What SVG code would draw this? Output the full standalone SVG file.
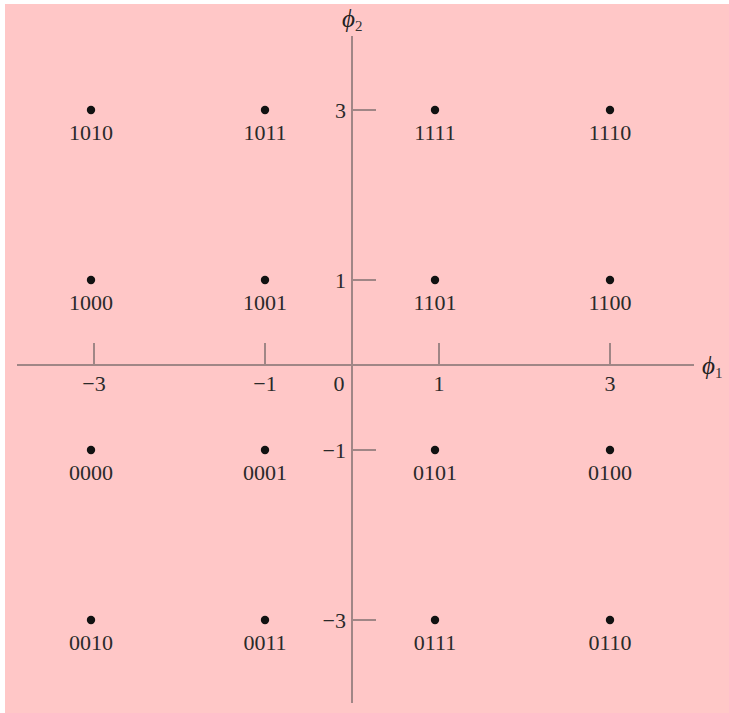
<svg xmlns="http://www.w3.org/2000/svg" width="729" height="713" viewBox="0 0 729 713">
<style>
.ax{stroke:#a08686;stroke-width:2;fill:none}
.dot{fill:#111}
.lb{font-family:"Liberation Serif",serif;font-size:22px;fill:#2a2a2a;text-anchor:middle}
.tk{font-family:"Liberation Serif",serif;font-size:22px;fill:#2a2a2a}
.ph{font-family:"Liberation Serif",serif;font-style:italic;font-size:25px;fill:#222}
.sub{font-family:"Liberation Serif",serif;font-size:15px;fill:#333}
</style>
<rect x="5" y="4" width="724" height="709" fill="#ffc7c7"/>
<g id="axes">
<line class="ax" x1="17" y1="365" x2="694" y2="365"/>
<line class="ax" x1="352" y1="36" x2="352" y2="703"/>
<line class="ax" x1="94" y1="343" x2="94" y2="365"/>
<line class="ax" x1="265" y1="343" x2="265" y2="365"/>
<line class="ax" x1="439" y1="343" x2="439" y2="365"/>
<line class="ax" x1="610" y1="343" x2="610" y2="365"/>
<line class="ax" x1="352" y1="110" x2="376" y2="110"/>
<line class="ax" x1="352" y1="280" x2="376" y2="280"/>
<line class="ax" x1="352" y1="450" x2="376" y2="450"/>
<line class="ax" x1="352" y1="620" x2="376" y2="620"/>
</g>
<g id="ticklabels">
<text class="tk" x="94" y="391" text-anchor="middle">−3</text>
<text class="tk" x="265" y="391" text-anchor="middle">−1</text>
<text class="tk" x="339" y="391" text-anchor="middle">0</text>
<text class="tk" x="439" y="391" text-anchor="middle">1</text>
<text class="tk" x="610" y="391" text-anchor="middle">3</text>
<text class="tk" x="346" y="118" text-anchor="end">3</text>
<text class="tk" x="346" y="288" text-anchor="end">1</text>
<text class="tk" x="346" y="458" text-anchor="end">−1</text>
<text class="tk" x="346" y="628" text-anchor="end">−3</text>
</g>
<g id="axis-labels">
<text x="342" y="27"><tspan class="ph">ϕ</tspan><tspan class="sub" dy="4">2</tspan></text>
<text x="702" y="374"><tspan class="ph">ϕ</tspan><tspan class="sub" dy="4">1</tspan></text>
</g>
<g id="p1010"><circle class="dot" cx="91" cy="110" r="4.2"/><text class="lb" x="91" y="140">1010</text></g>
<g id="p1011"><circle class="dot" cx="265" cy="110" r="4.2"/><text class="lb" x="265" y="140">1011</text></g>
<g id="p1111"><circle class="dot" cx="435" cy="110" r="4.2"/><text class="lb" x="435" y="140">1111</text></g>
<g id="p1110"><circle class="dot" cx="610" cy="110" r="4.2"/><text class="lb" x="610" y="140">1110</text></g>
<g id="p1000"><circle class="dot" cx="91" cy="280" r="4.2"/><text class="lb" x="91" y="310">1000</text></g>
<g id="p1001"><circle class="dot" cx="265" cy="280" r="4.2"/><text class="lb" x="265" y="310">1001</text></g>
<g id="p1101"><circle class="dot" cx="435" cy="280" r="4.2"/><text class="lb" x="435" y="310">1101</text></g>
<g id="p1100"><circle class="dot" cx="610" cy="280" r="4.2"/><text class="lb" x="610" y="310">1100</text></g>
<g id="p0000"><circle class="dot" cx="91" cy="450" r="4.2"/><text class="lb" x="91" y="480">0000</text></g>
<g id="p0001"><circle class="dot" cx="265" cy="450" r="4.2"/><text class="lb" x="265" y="480">0001</text></g>
<g id="p0101"><circle class="dot" cx="435" cy="450" r="4.2"/><text class="lb" x="435" y="480">0101</text></g>
<g id="p0100"><circle class="dot" cx="610" cy="450" r="4.2"/><text class="lb" x="610" y="480">0100</text></g>
<g id="p0010"><circle class="dot" cx="91" cy="620" r="4.2"/><text class="lb" x="91" y="650">0010</text></g>
<g id="p0011"><circle class="dot" cx="265" cy="620" r="4.2"/><text class="lb" x="265" y="650">0011</text></g>
<g id="p0111"><circle class="dot" cx="435" cy="620" r="4.2"/><text class="lb" x="435" y="650">0111</text></g>
<g id="p0110"><circle class="dot" cx="610" cy="620" r="4.2"/><text class="lb" x="610" y="650">0110</text></g>
</svg>
